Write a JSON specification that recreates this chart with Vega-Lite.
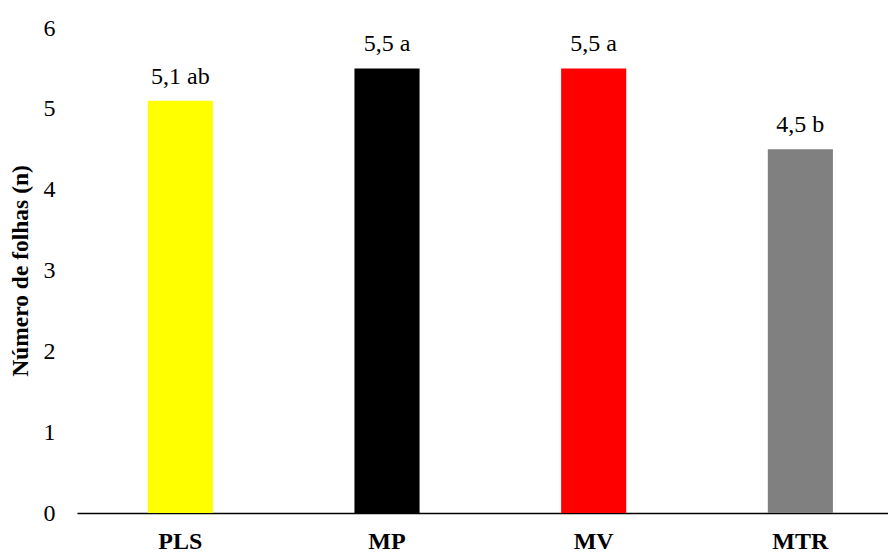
{
  "$schema": "https://vega.github.io/schema/vega-lite/v6.json",
  "autosize": {"type": "none"},
  "padding": {"left": 77, "top": 28, "right": 0, "bottom": 39},
  "width": 811,
  "height": 485,
  "background": "white",
  "config": {"view": {"stroke": null}, "font": "Liberation Serif"},
  "data": {
    "values": [
      {"trat": "PLS", "folhas": 5.1, "rotulo": "5,1 ab", "cor": "#FFFF00"},
      {"trat": "MP", "folhas": 5.5, "rotulo": "5,5 a", "cor": "#000000"},
      {"trat": "MV", "folhas": 5.5, "rotulo": "5,5 a", "cor": "#FF0000"},
      {"trat": "MTR", "folhas": 4.5, "rotulo": "4,5 b", "cor": "#808080"}
    ]
  },
  "encoding": {
    "x": {
      "field": "trat",
      "type": "nominal",
      "sort": null,
      "scale": {"range": [0, 826.7], "paddingInner": 0.685, "paddingOuter": 0.3425},
      "axis": {
        "title": null,
        "labelAngle": 0,
        "labelFont": "Liberation Serif",
        "labelFontWeight": "bold",
        "labelFontSize": 24,
        "labelColor": "#000",
        "labelPadding": 16,
        "ticks": false,
        "domainColor": "#000",
        "domainWidth": 1.5
      }
    },
    "y": {
      "field": "folhas",
      "type": "quantitative",
      "scale": {"domain": [0, 6], "nice": false},
      "axis": {
        "title": "Número de folhas (n)",
        "titleFont": "Liberation Serif",
        "titleFontSize": 23.5,
        "titleFontWeight": "bold",
        "titleColor": "#000",
        "titlePadding": 11,
        "values": [0, 1, 2, 3, 4, 5, 6],
        "labelFont": "Liberation Serif",
        "labelFontSize": 24,
        "labelColor": "#000",
        "labelPadding": 22,
        "ticks": false,
        "domain": false,
        "grid": false
      }
    }
  },
  "layer": [
    {
      "mark": {"type": "bar"},
      "encoding": {
        "color": {"field": "cor", "type": "nominal", "scale": null, "legend": null}
      }
    },
    {
      "mark": {"type": "text", "baseline": "alphabetic", "dy": -17, "fontSize": 24, "font": "Liberation Serif", "color": "#000"},
      "encoding": {"text": {"field": "rotulo"}}
    }
  ]
}
